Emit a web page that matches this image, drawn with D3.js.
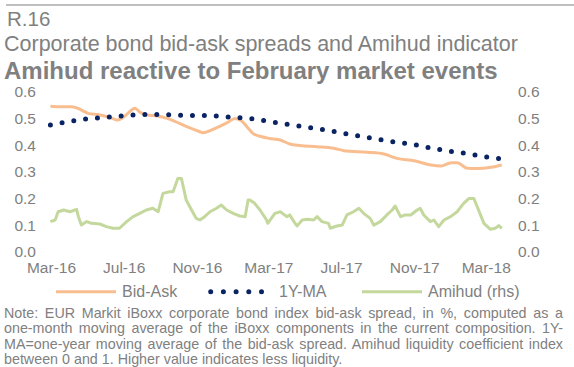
<!DOCTYPE html>
<html>
<head>
<meta charset="utf-8">
<script src="https://cdn.jsdelivr.net/npm/d3@7"></script>
<style>
  body { margin: 0; background: #fff; }
  svg { display: block; font-family: "Liberation Sans", Arial, sans-serif; }
</style>
</head>
<body>
<svg id="chart" width="574" height="367"></svg>
<script>
// ---- data -------------------------------------------------------------
// iBoxx corporate bid-ask spread (%), one-month moving average
const bidAskDates = [
  "2016-02-29","2016-03-16","2016-04-05","2016-04-19","2016-05-02","2016-05-22",
  "2016-06-08","2016-06-20","2016-07-03","2016-07-12","2016-07-20","2016-07-28",
  "2016-08-09","2016-08-26","2016-09-12","2016-09-25","2016-10-15","2016-11-06",
  "2016-11-11","2016-11-28","2016-12-22","2017-01-04","2017-01-16","2017-01-24",
  "2017-02-03","2017-02-18","2017-03-03","2017-03-21","2017-04-06","2017-04-23",
  "2017-05-22","2017-06-19","2017-07-06","2017-08-14","2017-09-11","2017-10-03",
  "2017-11-01","2017-11-29","2017-12-16","2018-01-02","2018-01-12","2018-01-29",
  "2018-02-14","2018-03-10","2018-03-28"
];
const bidAskValues = [
  0.547,0.545,0.545,0.535,0.520,0.514,
  0.505,0.495,0.510,0.528,0.539,0.525,
  0.514,0.510,0.501,0.490,0.470,0.451,
  0.447,0.460,0.485,0.501,0.490,0.470,
  0.445,0.432,0.426,0.420,0.405,0.399,
  0.395,0.389,0.380,0.374,0.3675,0.351,
  0.342,0.326,0.3225,0.335,0.335,0.314,
  0.313,0.3175,0.326
];

// One-year moving average of the bid-ask spread
const maDates = [
  "2016-02-29","2016-04-01","2016-05-01","2016-06-01","2016-07-01","2016-08-01",
  "2016-09-01","2016-10-01","2016-11-01","2016-12-01","2017-01-01","2017-02-01",
  "2017-03-01","2017-04-01","2017-05-01","2017-06-01","2017-07-01","2017-08-01",
  "2017-09-01","2017-10-01","2017-11-01","2017-12-01","2018-01-01","2018-02-01",
  "2018-03-01","2018-03-28"
];
const maValues = [
  0.476,0.490,0.4995,0.505,0.511,0.5155,
  0.516,0.5125,0.512,0.510,0.505,0.500,
  0.490,0.479,0.469,0.459,0.447,0.435,
  0.4225,0.412,0.403,0.389,0.3775,0.368,
  0.3565,0.350
];

// Amihud liquidity coefficient index (right axis)
const amihudDates = [
  "2016-02-29","2016-03-08","2016-03-13","2016-03-22","2016-04-02","2016-04-13",
  "2016-04-16","2016-04-21","2016-04-30","2016-05-08","2016-05-22","2016-06-02",
  "2016-06-13","2016-06-24","2016-07-06","2016-07-17","2016-07-28","2016-08-08",
  "2016-08-19","2016-08-28","2016-09-05","2016-09-16","2016-09-22","2016-09-30",
  "2016-10-06","2016-10-14","2016-10-23","2016-10-31","2016-11-06","2016-11-14",
  "2016-11-23","2016-12-04","2016-12-12","2016-12-21","2017-01-01","2017-01-12",
  "2017-01-21","2017-01-26","2017-01-29","2017-02-06","2017-02-15","2017-02-26",
  "2017-02-28","2017-03-12","2017-03-21","2017-04-01","2017-04-06","2017-04-13",
  "2017-04-18","2017-04-27","2017-05-05","2017-05-16","2017-05-22","2017-05-30",
  "2017-06-10","2017-06-13","2017-06-24","2017-07-03","2017-07-11","2017-07-22",
  "2017-07-31","2017-08-08","2017-08-19","2017-08-25","2017-09-05","2017-09-16",
  "2017-09-25","2017-09-30","2017-10-09","2017-10-17","2017-10-26","2017-11-06",
  "2017-11-11","2017-11-17","2017-11-28","2017-12-04","2017-12-12","2017-12-21",
  "2018-01-01","2018-01-12","2018-01-23","2018-02-01","2018-02-09","2018-02-17",
  "2018-02-26","2018-03-09","2018-03-17","2018-03-23","2018-03-28"
];
const amihudValues = [
  0.114,0.120,0.151,0.1575,0.151,0.160,
  0.1325,0.101,0.114,0.1075,0.105,0.095,
  0.089,0.089,0.114,0.1325,0.145,0.1575,
  0.164,0.151,0.220,0.226,0.226,0.276,
  0.276,0.195,0.1575,0.126,0.120,0.1325,
  0.151,0.164,0.176,0.1575,0.145,0.135,
  0.1325,0.195,0.195,0.1825,0.1575,0.120,
  0.1075,0.145,0.151,0.1325,0.139,0.114,
  0.0975,0.120,0.1225,0.120,0.1325,0.114,
  0.1075,0.089,0.0975,0.101,0.139,0.151,
  0.164,0.145,0.126,0.101,0.114,0.139,
  0.1575,0.1725,0.1325,0.139,0.139,0.1575,
  0.164,0.139,0.114,0.120,0.095,0.120,
  0.1325,0.151,0.1825,0.201,0.201,0.1575,
  0.1075,0.085,0.089,0.099,0.089
];

const xTickDates = ["2016-03-01","2016-07-01","2016-11-01","2017-03-01","2017-07-01","2017-11-01","2018-03-01"];
const yTickValues = [0, 0.1, 0.2, 0.3, 0.4, 0.5, 0.6];
const legendLabels = ["Bid-Ask", "1Y-MA", "Amihud (rhs)"];

const titleNumber = "R.16";
const titleText = "Corporate bond bid-ask spreads and Amihud indicator";
const headline = "Amihud reactive to February market events";
const noteLines = [
  "Note: EUR Markit iBoxx corporate bond index bid-ask spread, in %, computed as a",
  "one-month moving average of the iBoxx components in the current composition. 1Y-",
  "MA=one-year moving average of the bid-ask spread. Amihud liquidity coefficient index",
  "between 0 and 1. Higher value indicates less liquidity."
];

// ---- styles -----------------------------------------------------------
const COLOR_BIDASK = "#F9BE90";
const COLOR_MA = "#0A2463";
const COLOR_AMIHUD = "#C4D89D";
const TEXT_GRAY = "#808080";

// ---- setup ------------------------------------------------------------
const svg = d3.select("#chart");
const parse = d3.timeParse("%Y-%m-%d");
const fmtTick = d3.timeFormat("%b-%y");

const x = d3.scaleTime()
  .domain([parse("2016-03-01"), parse("2018-03-01")])
  .range([51, 485.7]);
const yLeft = d3.scaleLinear().domain([0, 0.6]).range([252, 92]);
const yRight = d3.scaleLinear().domain([0, 0.6]).range([252, 92]);

// header rule and titles
svg.append("line")
  .attr("x1", 6).attr("x2", 574).attr("y1", 5).attr("y2", 5)
  .attr("stroke", "#BFBFBF").attr("stroke-width", 2);

svg.append("text").attr("x", 7).attr("y", 26)
  .attr("font-size", 20.5).attr("fill", TEXT_GRAY).text(titleNumber);
svg.append("text").attr("x", 4).attr("y", 51)
  .attr("font-size", 21.5).attr("fill", TEXT_GRAY).text(titleText);
svg.append("text").attr("x", 4).attr("y", 79)
  .attr("font-size", 24).attr("font-weight", "bold").attr("fill", TEXT_GRAY).text(headline);

// axes (labels only, no lines)
function styleAxis(g) {
  g.select(".domain").remove();
  g.selectAll(".tick line").remove();
  g.selectAll("text")
    .attr("fill", TEXT_GRAY)
    .attr("font-size", 15.5)
    .attr("font-family", "'Liberation Sans', Arial, sans-serif");
}

svg.append("g")
  .attr("transform", "translate(40,0)")
  .call(d3.axisLeft(yLeft).tickValues(yTickValues).tickFormat(d3.format(".1f")).tickSize(0).tickPadding(4))
  .call(styleAxis);

svg.append("g")
  .attr("transform", "translate(514,0)")
  .call(d3.axisRight(yRight).tickValues(yTickValues).tickFormat(d3.format(".1f")).tickSize(0).tickPadding(4))
  .call(styleAxis);

svg.append("g")
  .attr("transform", "translate(0,252)")
  .call(d3.axisBottom(x).tickValues(xTickDates.map(parse)).tickFormat(fmtTick).tickSize(0).tickPadding(10))
  .call(styleAxis);

// ---- series -----------------------------------------------------------
const bidAsk = bidAskDates.map((d, i) => ({ date: parse(d), value: bidAskValues[i] }));
const ma = maDates.map((d, i) => ({ date: parse(d), value: maValues[i] }));
const amihud = amihudDates.map((d, i) => ({ date: parse(d), value: amihudValues[i] }));

svg.append("path")
  .datum(amihud)
  .attr("fill", "none")
  .attr("stroke", COLOR_AMIHUD)
  .attr("stroke-width", 3)
  .attr("stroke-linejoin", "round")
  .attr("d", d3.line().x(d => x(d.date)).y(d => yRight(d.value)));

svg.append("path")
  .datum(bidAsk)
  .attr("fill", "none")
  .attr("stroke", COLOR_BIDASK)
  .attr("stroke-width", 3)
  .attr("stroke-linejoin", "round")
  .attr("d", d3.line().x(d => x(d.date)).y(d => yLeft(d.value)).curve(d3.curveMonotoneX));

svg.append("path")
  .datum(ma)
  .attr("fill", "none")
  .attr("stroke", COLOR_MA)
  .attr("stroke-width", 5)
  .attr("stroke-linecap", "round")
  .attr("stroke-dasharray", "0 11.9")
  .attr("d", d3.line().x(d => x(d.date)).y(d => yLeft(d.value)).curve(d3.curveMonotoneX));

// ---- legend -----------------------------------------------------------
const legend = svg.append("g").attr("font-size", 16).attr("fill", TEXT_GRAY);
const legendY = 291.7;

legend.append("line").attr("x1", 56).attr("x2", 116).attr("y1", legendY).attr("y2", legendY)
  .attr("stroke", COLOR_BIDASK).attr("stroke-width", 3);
legend.append("text").attr("x", 122).attr("y", legendY + 5.7).text(legendLabels[0]);

legend.selectAll("circle.ma").data(d3.range(5)).enter().append("circle")
  .attr("cx", i => 210.7 + i * 12.7).attr("cy", legendY).attr("r", 2.5).attr("fill", COLOR_MA);
legend.append("text").attr("x", 279).attr("y", legendY + 5.7).text(legendLabels[1]);

legend.append("line").attr("x1", 362).attr("x2", 422).attr("y1", legendY).attr("y2", legendY)
  .attr("stroke", COLOR_AMIHUD).attr("stroke-width", 3);
legend.append("text").attr("x", 428).attr("y", legendY + 5.7).text(legendLabels[2]);

// ---- note (justified except the last line) ------------------------------
const noteLeft = 4, noteWidth = 559;
const note = svg.append("g").attr("font-size", 14.3).attr("fill", TEXT_GRAY);
noteLines.forEach((t, i) => {
  const txt = note.append("text").attr("x", noteLeft).attr("y", 317.5 + i * 15.6).text(t);
  if (i < noteLines.length - 1) {
    const w = txt.node().getComputedTextLength();
    const spaces = (t.match(/ /g) || []).length;
    txt.attr("word-spacing", (noteWidth - w) / spaces);
  }
});
</script>
</body>
</html>
